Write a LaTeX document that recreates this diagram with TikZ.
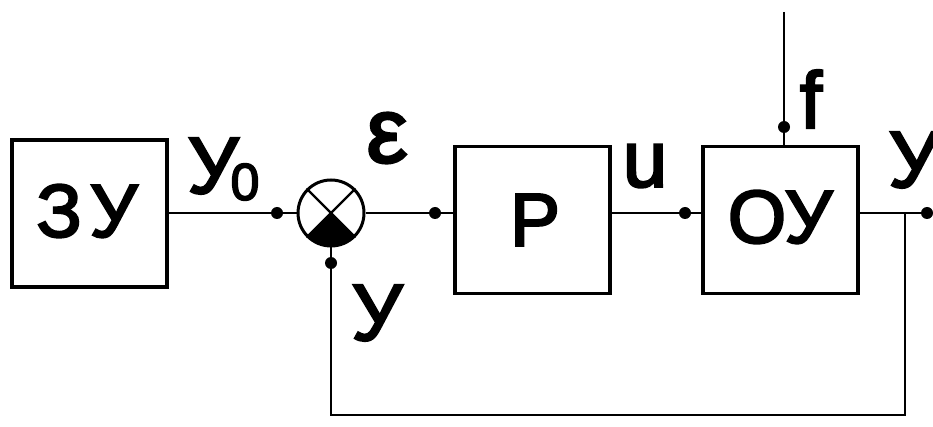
\documentclass[tikz,border=0pt]{standalone}
\usepackage{fontspec}
\setmainfont{Liberation Sans}
\newfontfamily\diafont[FakeBold=3]{Liberation Sans}
\begin{document}
\begin{tikzpicture}[x=1pt,y=-1pt,
  blk/.style={draw,line width=3.5pt,minimum width=155pt,minimum height=147pt,inner sep=0pt},
  blktext/.style={font=\diafont\fontsize{75}{75}\selectfont,inner sep=0pt},
  wire/.style={line width=2.8pt},
  lbl/.style={font=\diafont\fontsize{80}{80}\selectfont,inner sep=0pt},
  dot/.style={circle,fill,inner sep=0pt,minimum size=12pt}]
\useasboundingbox (0,0) rectangle (933,427);
\node[blk] (zu) at (89.5,213.5) {};
\node[blktext] (zut) at (87,211) {З\hspace{8pt}У};
\node[blk] (p) at (532.5,220) {};
\node[blktext] (pt) at (535,220) {Р};
\node[blk] (ou) at (780.5,220) {};
\node[blktext] (out1) at (780,217) {ОУ};
\node[circle,draw,line width=3pt,minimum size=66pt,inner sep=0pt] (s) at (331,213) {};
\fill (s.center) -- ([shift={(45:33)}]s.center) arc[start angle=45,end angle=135,radius=33] -- cycle;
\draw[line width=2.2pt] (s.45) -- (s.225) (s.135) -- (s.315);
\coordinate (fin) at (784,12);
\coordinate (out) at (933,213);
\coordinate (br) at (905,213);
\coordinate (bl) at (905,415);
\coordinate (sl) at (331,415);
\draw[wire] (zu.east |- s.center) -- (s.west);
\draw[wire] (s.east) -- (p.west |- s.center);
\draw[wire] (p.east |- s.center) -- (ou.west |- s.center);
\draw[wire] (ou.east |- s.center) -- (out);
\draw[wire] (fin) -- (fin |- ou.north);
\draw[wire] (br) -- (bl) -- (sl) -- (s.south);
\node[dot] (d1) at (277,213) {};
\node[dot] (d2) at (435,213) {};
\node[dot] (d3) at (685,213) {};
\node[dot] (d4) at (927,213) {};
\node[dot] (d5) at (784,127) {};
\node[dot] (d6) at (331,263) {};
\node[lbl] (ly0) at (213,166) {У};
\node[font=\diafont\fontsize{52}{52}\selectfont,inner sep=0pt] (l0) at (245,182) {0};
\node[font=\diafont\fontsize{92}{92}\selectfont,inner sep=0pt] (le) at (387,138) {ε};
\node[lbl] (ly1) at (377,313) {У};
\node[lbl] (lu) at (645,166) {u};
\node[lbl] (lf) at (811,99) {f};
\node[lbl] (ly2) at (914,160) {У};
\end{tikzpicture}
\end{document}
